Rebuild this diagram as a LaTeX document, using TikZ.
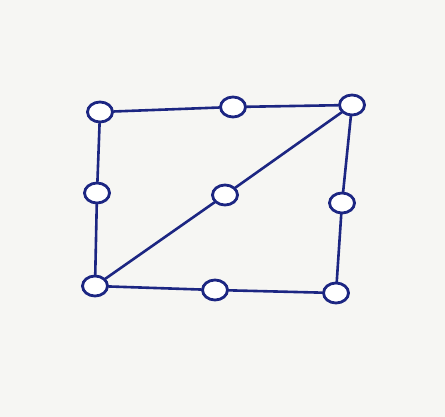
\documentclass[tikz,border=0pt]{standalone}
\usetikzlibrary{shapes.geometric}
\definecolor{paper}{RGB}{246,246,243}
\definecolor{ink}{RGB}{28,38,130}
\tikzset{
  dot/.style={ellipse, draw=ink, line width=2.8pt, fill=white, minimum width=25pt, minimum height=20pt, inner sep=0pt},
  edge/.style={draw=ink, line width=2.6pt, line cap=round}
}
\begin{document}
\begin{tikzpicture}[x=1pt,y=-1pt]
\fill[paper] (0,0) rectangle (445,417);
\useasboundingbox (0,0) rectangle (445,417);
\node[dot] (tl) at (100,112) {};
\node[dot] (tm) at (233,107) {};
\node[dot] (tr) at (352,105) {};
\node[dot] (lm) at (97,193) {};
\node[dot] (c) at (225,195) {};
\node[dot] (rm) at (342,203) {};
\node[dot] (bl) at (95,286) {};
\node[dot] (bm) at (215,290) {};
\node[dot] (br) at (336,293) {};
\draw[edge] (tl) -- (tm);
\draw[edge] (tm) -- (tr);
\draw[edge] (tl) -- (lm);
\draw[edge] (lm) -- (bl);
\draw[edge] (bl) -- (bm);
\draw[edge] (bm) -- (br);
\draw[edge] (br) -- (rm);
\draw[edge] (rm) -- (tr);
\draw[edge] (bl) -- (c);
\draw[edge] (c) -- (tr);
\end{tikzpicture}
\end{document}
